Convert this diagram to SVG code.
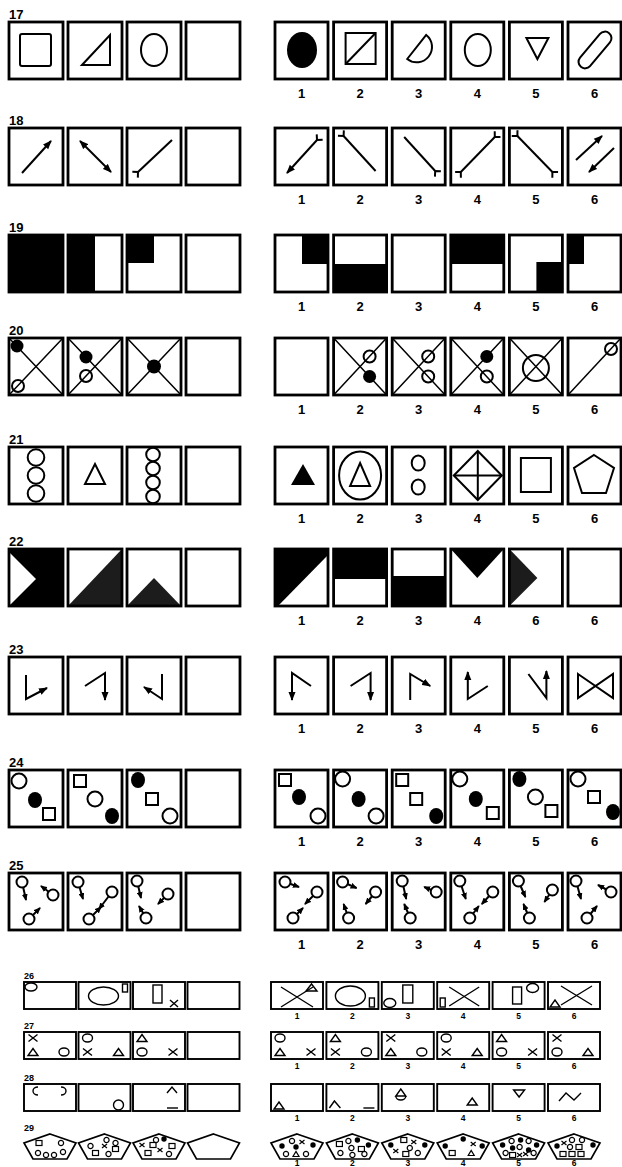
<svg xmlns="http://www.w3.org/2000/svg" width="622" height="1167" viewBox="0 0 622 1167">
<style>
.b{fill:#fff;stroke:#000;stroke-width:2.8}
.bo{fill:none;stroke:#000;stroke-width:2.8}
.sb{fill:#fff;stroke:#000;stroke-width:1.9}
.s{fill:none;stroke:#000;stroke-width:2}
.sw{fill:#fff;stroke:#000;stroke-width:2}
.t{fill:none;stroke:#000;stroke-width:1.5}
.f{fill:#000}
.g{fill:#1c1c1c}
.w{fill:#fff}
.m{fill:none;stroke:#000;stroke-width:1.4}
.lbl{font-family:"Liberation Sans",Arial,sans-serif;font-weight:bold;font-size:13px;fill:#000}
.num{font-family:"Liberation Sans",Arial,sans-serif;font-weight:bold;font-size:13px;text-anchor:middle;fill:#000}
.sl{font-family:"Liberation Sans",Arial,sans-serif;font-weight:bold;font-size:9px;fill:#000}
.sn{font-family:"Liberation Sans",Arial,sans-serif;font-weight:bold;font-size:8.5px;text-anchor:middle;fill:#000}
</style>
<defs>
<marker id="ah" viewBox="0 -4 9 8" refX="8" refY="0" markerWidth="9" markerHeight="8" markerUnits="userSpaceOnUse" orient="auto-start-reverse"><path d="M0,-3.5 L9,0 L0,3.5 Z" fill="#000"/></marker>
<marker id="ah2" viewBox="0 -3 7 6" refX="6" refY="0" markerWidth="7" markerHeight="6" markerUnits="userSpaceOnUse" orient="auto-start-reverse"><path d="M0,-3 L7,0 L0,3 Z" fill="#000"/></marker>
<marker id="yt" viewBox="-1 -6 7 12" refX="0" refY="0" markerWidth="7" markerHeight="12" markerUnits="userSpaceOnUse" orient="auto-start-reverse" overflow="visible"><path d="M4,-4 L0,0 L4,4" fill="none" stroke="#000" stroke-width="2"/></marker>
<circle id="c24" r="7.5" class="sw"/>
<ellipse id="b24" rx="7" ry="8" class="f"/>
<rect id="s24" x="-6" y="-6" width="12" height="12" class="sw"/>
<path id="x27" d="M-4.5,-3.5 L4.5,3.5 M-4.5,3.5 L4.5,-3.5" class="m"/>
<polygon id="t27" points="-5,3.5 5,3.5 0,-3.5" class="m"/>
<ellipse id="o27" rx="5" ry="4" class="m"/>
<circle id="pc" r="2.6" fill="none" stroke="#000" stroke-width="1.2"/>
<circle id="pf" r="2.7" fill="#000"/>
<rect id="ps" x="-3" y="-2.5" width="6" height="5" fill="none" stroke="#000" stroke-width="1.2"/>
<path id="px" d="M-2.5,-2 L2.5,2 M-2.5,2 L2.5,-2" fill="none" stroke="#000" stroke-width="1.2"/>
<polygon id="pt" points="-3,2.5 3,2.5 0,-2.5" fill="none" stroke="#000" stroke-width="1.2"/>
<polygon id="pent" points="26,0 52,9 43,25 9,25 0,9" fill="#fff" stroke="#000" stroke-width="1.7"/>
</defs>
<rect width="622" height="1167" fill="#fff"/>

<!-- ROW 17 -->
<g id="row17">
<text class="lbl" x="9" y="19">17</text>
<g id="r17-l1" transform="translate(9,22)"><rect class="b" width="54" height="57"/><rect class="s" x="11" y="12" width="31" height="32" rx="2"/></g>
<g id="r17-l2" transform="translate(68,22)"><rect class="b" width="54" height="57"/><polygon class="s" points="14,43 42,13 42,43"/></g>
<g id="r17-l3" transform="translate(127,22)"><rect class="b" width="54" height="57"/><ellipse class="s" cx="27" cy="28" rx="13" ry="16"/></g>
<g id="r17-l4" transform="translate(186,22)"><rect class="b" width="54" height="57"/></g>
<g id="r17-r1" transform="translate(275,22)"><rect class="b" width="53" height="57"/><ellipse class="f" cx="27" cy="28" rx="15" ry="18"/></g>
<g id="r17-r2" transform="translate(333.6,22)"><rect class="b" width="53" height="57"/><rect class="s" x="12" y="11" width="30" height="31"/><line class="s" x1="12" y1="42" x2="42" y2="11"/></g>
<g id="r17-r3" transform="translate(392.2,22)"><rect class="b" width="53" height="57"/><path class="s" d="M15,37 L34,13 A15.3,15.3 0 0 1 15,37 Z"/></g>
<g id="r17-r4" transform="translate(450.8,22)"><rect class="b" width="53" height="57"/><ellipse class="s" cx="27" cy="28" rx="13" ry="16"/></g>
<g id="r17-r5" transform="translate(509.4,22)"><rect class="b" width="53" height="57"/><polygon class="s" points="17,16 39,16 28,37"/></g>
<g id="r17-r6" transform="translate(568,22)"><rect class="b" width="53" height="57"/><rect class="s" x="5" y="21.5" width="44" height="13" rx="6.5" transform="rotate(-50 27 28)"/></g>
<text class="num" x="301.5" y="98">1</text><text class="num" x="360.1" y="98">2</text><text class="num" x="418.7" y="98">3</text><text class="num" x="477.3" y="98">4</text><text class="num" x="535.9" y="98">5</text><text class="num" x="594.5" y="98">6</text>
</g>

<!-- ROW 18 -->
<g id="row18">
<text class="lbl" x="9" y="125">18</text>
<g id="r18-l1" transform="translate(9,128)"><rect class="b" width="54" height="57"/><line class="s" x1="13" y1="45" x2="42" y2="13" marker-end="url(#ah)"/></g>
<g id="r18-l2" transform="translate(68,128)"><rect class="b" width="54" height="57"/><line class="s" x1="12" y1="13" x2="43" y2="44" marker-start="url(#ah)" marker-end="url(#ah)"/></g>
<g id="r18-l3" transform="translate(127,128)"><rect class="b" width="54" height="57"/><line class="s" x1="11" y1="44" x2="45" y2="12" marker-start="url(#yt)"/></g>
<g id="r18-l4" transform="translate(186,128)"><rect class="b" width="54" height="57"/></g>
<g id="r18-r1" transform="translate(275,128)"><rect class="b" width="53" height="57"/><line class="s" x1="12" y1="45" x2="42" y2="12" marker-start="url(#ah)" marker-end="url(#yt)"/></g>
<g id="r18-r2" transform="translate(333.6,128)"><rect class="b" width="53" height="57"/><line class="s" x1="10" y1="8" x2="42" y2="43" marker-start="url(#yt)"/></g>
<g id="r18-r3" transform="translate(392.2,128)"><rect class="b" width="53" height="57"/><line class="s" x1="12" y1="9" x2="43" y2="43" marker-end="url(#yt)"/></g>
<g id="r18-r4" transform="translate(450.8,128)"><rect class="b" width="53" height="57"/><line class="s" x1="10" y1="44" x2="44" y2="9" marker-start="url(#yt)" marker-end="url(#yt)"/></g>
<g id="r18-r5" transform="translate(509.4,128)"><rect class="b" width="53" height="57"/><line class="s" x1="8" y1="8" x2="43" y2="44" marker-start="url(#yt)" marker-end="url(#yt)"/></g>
<g id="r18-r6" transform="translate(568,128)"><rect class="b" width="53" height="57"/><line class="s" x1="8" y1="32" x2="34" y2="8" marker-end="url(#ah)"/><line class="s" x1="46" y1="20" x2="21" y2="44" marker-end="url(#ah)"/></g>
<text class="num" x="301.5" y="204">1</text><text class="num" x="360.1" y="204">2</text><text class="num" x="418.7" y="204">3</text><text class="num" x="477.3" y="204">4</text><text class="num" x="535.9" y="204">5</text><text class="num" x="594.5" y="204">6</text>
</g>

<!-- ROW 19 -->
<g id="row19">
<text class="lbl" x="9" y="232">19</text>
<g id="r19-l1" transform="translate(9,235)"><rect class="f" width="54" height="57"/><rect class="bo" width="54" height="57"/></g>
<g id="r19-l2" transform="translate(68,235)"><rect class="w" width="54" height="57"/><rect class="f" width="27" height="57"/><rect class="bo" width="54" height="57"/></g>
<g id="r19-l3" transform="translate(127,235)"><rect class="w" width="54" height="57"/><rect class="f" width="27" height="28"/><rect class="bo" width="54" height="57"/></g>
<g id="r19-l4" transform="translate(186,235)"><rect class="b" width="54" height="57"/></g>
<g id="r19-r1" transform="translate(275,235)"><rect class="w" width="53" height="57"/><rect class="f" x="27" width="26" height="29"/><rect class="bo" width="53" height="57"/></g>
<g id="r19-r2" transform="translate(333.6,235)"><rect class="w" width="53" height="57"/><rect class="f" y="29" width="53" height="28"/><rect class="bo" width="53" height="57"/></g>
<g id="r19-r3" transform="translate(392.2,235)"><rect class="b" width="53" height="57"/></g>
<g id="r19-r4" transform="translate(450.8,235)"><rect class="w" width="53" height="57"/><rect class="f" width="53" height="29"/><rect class="bo" width="53" height="57"/></g>
<g id="r19-r5" transform="translate(509.4,235)"><rect class="w" width="53" height="57"/><rect class="f" x="27" y="27" width="26" height="30"/><rect class="bo" width="53" height="57"/></g>
<g id="r19-r6" transform="translate(568,235)"><rect class="w" width="53" height="57"/><rect class="f" width="16" height="29"/><rect class="bo" width="53" height="57"/></g>
<text class="num" x="301.5" y="311">1</text><text class="num" x="360.1" y="311">2</text><text class="num" x="418.7" y="311">3</text><text class="num" x="477.3" y="311">4</text><text class="num" x="535.9" y="311">5</text><text class="num" x="594.5" y="311">6</text>
</g>

<!-- ROW 20 -->
<g id="row20">
<text class="lbl" x="9" y="335">20</text>
<g id="r20-l1" transform="translate(9,338)"><rect class="b" width="54" height="57"/><path class="t" d="M0,0 L54,57 M0,57 L54,0"/><circle class="f" cx="8" cy="8" r="6.5"/><circle class="s" cx="9" cy="48" r="6"/></g>
<g id="r20-l2" transform="translate(68,338)"><rect class="b" width="54" height="57"/><path class="t" d="M0,0 L54,57 M0,57 L54,0"/><circle class="f" cx="18" cy="19" r="6.5"/><circle class="s" cx="18" cy="38" r="6"/></g>
<g id="r20-l3" transform="translate(127,338)"><rect class="b" width="54" height="57"/><path class="t" d="M0,0 L54,57 M0,57 L54,0"/><circle class="f" cx="27" cy="28.5" r="7"/></g>
<g id="r20-l4" transform="translate(186,338)"><rect class="b" width="54" height="57"/></g>
<g id="r20-r1" transform="translate(275,338)"><rect class="b" width="53" height="57"/></g>
<g id="r20-r2" transform="translate(333.6,338)"><rect class="b" width="53" height="57"/><path class="t" d="M0,0 L53,57 M0,57 L53,0"/><circle class="s" cx="36" cy="18.5" r="6"/><circle class="f" cx="36" cy="38.5" r="6.5"/></g>
<g id="r20-r3" transform="translate(392.2,338)"><rect class="b" width="53" height="57"/><path class="t" d="M0,0 L53,57 M0,57 L53,0"/><circle class="s" cx="36" cy="18.5" r="6"/><circle class="s" cx="36" cy="38.5" r="6"/></g>
<g id="r20-r4" transform="translate(450.8,338)"><rect class="b" width="53" height="57"/><path class="t" d="M0,0 L53,57 M0,57 L53,0"/><circle class="f" cx="36" cy="18.5" r="6.5"/><circle class="s" cx="36" cy="38.5" r="6"/></g>
<g id="r20-r5" transform="translate(509.4,338)"><rect class="b" width="53" height="57"/><path class="t" d="M0,0 L53,57 M0,57 L53,0"/><circle class="s" cx="26.5" cy="30" r="13"/></g>
<g id="r20-r6" transform="translate(568,338)"><rect class="b" width="53" height="57"/><path class="t" d="M0,57 L53,0"/><circle class="s" cx="43" cy="11" r="6"/></g>
<text class="num" x="301.5" y="414">1</text><text class="num" x="360.1" y="414">2</text><text class="num" x="418.7" y="414">3</text><text class="num" x="477.3" y="414">4</text><text class="num" x="535.9" y="414">5</text><text class="num" x="594.5" y="414">6</text>
</g>

<!-- ROW 21 -->
<g id="row21">
<text class="lbl" x="9" y="444">21</text>
<g id="r21-l1" transform="translate(9,447)"><rect class="b" width="54" height="57"/><circle class="s" cx="27" cy="10.5" r="8.3"/><circle class="s" cx="27" cy="28.5" r="8.3"/><circle class="s" cx="27" cy="46.5" r="8.3"/></g>
<g id="r21-l2" transform="translate(68,447)"><rect class="b" width="54" height="57"/><polygon class="s" points="17,37 37,37 27,17"/></g>
<g id="r21-l3" transform="translate(127,447)"><rect class="b" width="54" height="57"/><circle class="s" cx="26" cy="7.5" r="6.8"/><circle class="s" cx="26" cy="21.5" r="6.8"/><circle class="s" cx="26" cy="35.5" r="6.8"/><circle class="s" cx="26" cy="49.5" r="6.8"/></g>
<g id="r21-l4" transform="translate(186,447)"><rect class="b" width="54" height="57"/></g>
<g id="r21-r1" transform="translate(275,447)"><rect class="b" width="53" height="57"/><polygon class="f" points="16,38 40,38 28,17"/></g>
<g id="r21-r2" transform="translate(333.6,447)"><rect class="b" width="53" height="57"/><ellipse class="s" cx="26.5" cy="28.5" rx="21" ry="24"/><polygon class="s" points="16.5,39 36.5,39 26.5,16"/></g>
<g id="r21-r3" transform="translate(392.2,447)"><rect class="b" width="53" height="57"/><ellipse class="s" cx="26" cy="16" rx="6.5" ry="7.5"/><ellipse class="s" cx="26" cy="40" rx="6.5" ry="7.5"/></g>
<g id="r21-r4" transform="translate(450.8,447)"><rect class="b" width="53" height="57"/><polygon class="s" points="27,4 51,28.5 27,53 3,28.5"/><path class="s" d="M27,4 L27,53 M3,28.5 L51,28.5"/></g>
<g id="r21-r5" transform="translate(509.4,447)"><rect class="b" width="53" height="57"/><rect class="s" x="11.5" y="11" width="30" height="34"/></g>
<g id="r21-r6" transform="translate(568,447)"><rect class="b" width="53" height="57"/><polygon class="s" points="26,8 46,21 38,46 14,46 6,21"/></g>
<text class="num" x="301.5" y="523">1</text><text class="num" x="360.1" y="523">2</text><text class="num" x="418.7" y="523">3</text><text class="num" x="477.3" y="523">4</text><text class="num" x="535.9" y="523">5</text><text class="num" x="594.5" y="523">6</text>
</g>

<!-- ROW 22 -->
<g id="row22">
<text class="lbl" x="9" y="546">22</text>
<g id="r22-l1" transform="translate(9,549)"><rect class="f" width="54" height="57"/><polygon class="w" points="0,3 27,30 0,57"/><rect class="bo" width="54" height="57"/></g>
<g id="r22-l2" transform="translate(68,549)"><rect class="w" width="54" height="57"/><polygon class="g" points="0,57 54,0 54,57"/><rect class="bo" width="54" height="57"/></g>
<g id="r22-l3" transform="translate(127,549)"><rect class="w" width="54" height="57"/><polygon class="g" points="0,57 54,57 27,29"/><rect class="bo" width="54" height="57"/></g>
<g id="r22-l4" transform="translate(186,549)"><rect class="b" width="54" height="57"/></g>
<g id="r22-r1" transform="translate(275,549)"><rect class="w" width="53" height="57"/><polygon class="f" points="0,0 53,0 53,6 3,57 0,57"/><rect class="bo" width="53" height="57"/></g>
<g id="r22-r2" transform="translate(333.6,549)"><rect class="w" width="53" height="57"/><rect class="f" width="53" height="30"/><rect class="bo" width="53" height="57"/></g>
<g id="r22-r3" transform="translate(392.2,549)"><rect class="w" width="53" height="57"/><rect class="f" y="27" width="53" height="30"/><rect class="bo" width="53" height="57"/></g>
<g id="r22-r4" transform="translate(450.8,549)"><rect class="w" width="53" height="57"/><polygon class="f" points="0,0 53,0 26.5,29"/><rect class="bo" width="53" height="57"/></g>
<g id="r22-r5" transform="translate(509.4,549)"><rect class="w" width="53" height="57"/><polygon class="g" points="0,0 28,29 0,57"/><rect class="bo" width="53" height="57"/></g>
<g id="r22-r6" transform="translate(568,549)"><rect class="b" width="53" height="57"/></g>
<text class="num" x="301.5" y="625">1</text><text class="num" x="360.1" y="625">2</text><text class="num" x="418.7" y="625">3</text><text class="num" x="477.3" y="625">4</text><text class="num" x="535.9" y="625">6</text><text class="num" x="594.5" y="625">6</text>
</g>

<!-- ROW 23 -->
<g id="row23">
<text class="lbl" x="9" y="654">23</text>
<g id="r23-l1" transform="translate(9,657)"><rect class="b" width="54" height="57"/><polyline class="s" points="17,18 17,42 38,31" marker-end="url(#ah)"/></g>
<g id="r23-l2" transform="translate(68,657)"><rect class="b" width="54" height="57"/><polyline class="s" points="17,29 37,16 37,43" marker-end="url(#ah)"/></g>
<g id="r23-l3" transform="translate(127,657)"><rect class="b" width="54" height="57"/><polyline class="s" points="35,17 35,42 17,30" marker-end="url(#ah)"/></g>
<g id="r23-l4" transform="translate(186,657)"><rect class="b" width="54" height="57"/></g>
<g id="r23-r1" transform="translate(275,657)"><rect class="b" width="53" height="57"/><polyline class="s" points="36,29 17,16 17,43" marker-end="url(#ah)"/></g>
<g id="r23-r2" transform="translate(333.6,657)"><rect class="b" width="53" height="57"/><polyline class="s" points="17,29 37,16 37,43" marker-end="url(#ah)"/></g>
<g id="r23-r3" transform="translate(392.2,657)"><rect class="b" width="53" height="57"/><polyline class="s" points="18,43 18,17 38,29" marker-end="url(#ah)"/></g>
<g id="r23-r4" transform="translate(450.8,657)"><rect class="b" width="53" height="57"/><polyline class="s" points="37,29 17,42 17,15" marker-end="url(#ah)"/></g>
<g id="r23-r5" transform="translate(509.4,657)"><rect class="b" width="53" height="57"/><polyline class="s" points="19,17 37,41 37,14" marker-end="url(#ah)"/></g>
<g id="r23-r6" transform="translate(568,657)"><rect class="b" width="53" height="57"/><polygon class="s" points="10,17 45,41 45,17 10,41"/></g>
<text class="num" x="301.5" y="733">1</text><text class="num" x="360.1" y="733">2</text><text class="num" x="418.7" y="733">3</text><text class="num" x="477.3" y="733">4</text><text class="num" x="535.9" y="733">5</text><text class="num" x="594.5" y="733">6</text>
</g>

<!-- ROW 24 -->
<g id="row24">
<text class="lbl" x="9" y="767">24</text>
<g id="r24-l1" transform="translate(9,770)"><rect class="b" width="54" height="57"/><use href="#c24" x="10" y="11"/><use href="#b24" x="26" y="30"/><use href="#s24" x="40" y="44"/></g>
<g id="r24-l2" transform="translate(68,770)"><rect class="b" width="54" height="57"/><use href="#s24" x="12" y="11"/><use href="#c24" x="27" y="29"/><use href="#b24" x="44" y="46"/></g>
<g id="r24-l3" transform="translate(127,770)"><rect class="b" width="54" height="57"/><use href="#b24" x="11" y="10"/><use href="#s24" x="25" y="29"/><use href="#c24" x="43" y="46"/></g>
<g id="r24-l4" transform="translate(186,770)"><rect class="b" width="54" height="57"/></g>
<g id="r24-r1" transform="translate(275,770)"><rect class="b" width="53" height="57"/><use href="#s24" x="10" y="10"/><use href="#b24" x="24" y="27"/><use href="#c24" x="43" y="46"/></g>
<g id="r24-r2" transform="translate(333.6,770)"><rect class="b" width="53" height="57"/><use href="#c24" x="9" y="9"/><use href="#b24" x="25" y="29"/><use href="#c24" x="42.5" y="46"/></g>
<g id="r24-r3" transform="translate(392.2,770)"><rect class="b" width="53" height="57"/><use href="#s24" x="10" y="10"/><use href="#s24" x="24" y="29"/><use href="#b24" x="44" y="46"/></g>
<g id="r24-r4" transform="translate(450.8,770)"><rect class="b" width="53" height="57"/><use href="#c24" x="9" y="9"/><use href="#b24" x="25" y="29"/><use href="#s24" x="42" y="43"/></g>
<g id="r24-r5" transform="translate(509.4,770)"><rect class="b" width="53" height="57"/><use href="#b24" x="10" y="9"/><use href="#c24" x="26" y="27"/><use href="#s24" x="42" y="41"/></g>
<g id="r24-r6" transform="translate(568,770)"><rect class="b" width="53" height="57"/><use href="#c24" x="10" y="9"/><use href="#s24" x="26" y="27"/><use href="#b24" x="45" y="42"/></g>
<text class="num" x="301.5" y="846">1</text><text class="num" x="360.1" y="846">2</text><text class="num" x="418.7" y="846">3</text><text class="num" x="477.3" y="846">4</text><text class="num" x="535.9" y="846">5</text><text class="num" x="594.5" y="846">6</text>
</g>

<!-- ROW 25 -->
<g id="row25">
<text class="lbl" x="9" y="870">25</text>
<g id="r25-l1" transform="translate(9,873)"><rect class="b" width="54" height="57"/>
<line class="s" x1="13" y1="9" x2="17" y2="27" marker-end="url(#ah2)"/><circle class="sw" cx="13" cy="9" r="5.5"/>
<line class="s" x1="44" y1="22" x2="32" y2="13" marker-end="url(#ah2)"/><circle class="sw" cx="44" cy="22" r="5.5"/>
<line class="s" x1="20" y1="46" x2="31" y2="35" marker-end="url(#ah2)"/><circle class="sw" cx="20" cy="46" r="5.5"/></g>
<g id="r25-l2" transform="translate(68,873)"><rect class="b" width="54" height="57"/>
<line class="s" x1="10" y1="9" x2="15" y2="26" marker-end="url(#ah2)"/><circle class="sw" cx="10" cy="9" r="5.5"/>
<line class="s" x1="44" y1="19" x2="31" y2="36" marker-end="url(#ah2)"/><circle class="sw" cx="44" cy="19" r="5.5"/>
<line class="s" x1="21" y1="46" x2="33" y2="34" marker-end="url(#ah2)"/><circle class="sw" cx="21" cy="46" r="5.5"/></g>
<g id="r25-l3" transform="translate(127,873)"><rect class="b" width="54" height="57"/>
<line class="s" x1="10" y1="8" x2="14" y2="25" marker-end="url(#ah2)"/><circle class="sw" cx="10" cy="8" r="5.5"/>
<line class="s" x1="41" y1="21" x2="31" y2="31" marker-end="url(#ah2)"/><circle class="sw" cx="41" cy="21" r="5.5"/>
<line class="s" x1="19" y1="45" x2="12" y2="33" marker-end="url(#ah2)"/><circle class="sw" cx="19" cy="45" r="5.5"/></g>
<g id="r25-l4" transform="translate(186,873)"><rect class="b" width="54" height="57"/></g>
<g id="r25-r1" transform="translate(275,873)"><rect class="b" width="53" height="57"/>
<line class="s" x1="10" y1="9" x2="24" y2="14" marker-end="url(#ah2)"/><circle class="sw" cx="10" cy="9" r="5.5"/>
<line class="s" x1="42" y1="19" x2="30" y2="31" marker-end="url(#ah2)"/><circle class="sw" cx="42" cy="19" r="5.5"/>
<line class="s" x1="18" y1="45" x2="28" y2="35" marker-end="url(#ah2)"/><circle class="sw" cx="18" cy="45" r="5.5"/></g>
<g id="r25-r2" transform="translate(333.6,873)"><rect class="b" width="53" height="57"/>
<line class="s" x1="9" y1="9" x2="23" y2="15" marker-end="url(#ah2)"/><circle class="sw" cx="9" cy="9" r="5.5"/>
<line class="s" x1="42" y1="19" x2="32" y2="31" marker-end="url(#ah2)"/><circle class="sw" cx="42" cy="19" r="5.5"/>
<line class="s" x1="15" y1="45" x2="10" y2="31" marker-end="url(#ah2)"/><circle class="sw" cx="15" cy="45" r="5.5"/></g>
<g id="r25-r3" transform="translate(392.2,873)"><rect class="b" width="53" height="57"/>
<line class="s" x1="10" y1="8" x2="14" y2="26" marker-end="url(#ah2)"/><circle class="sw" cx="10" cy="8" r="5.5"/>
<line class="s" x1="44" y1="19" x2="32" y2="14" marker-end="url(#ah2)"/><circle class="sw" cx="44" cy="19" r="5.5"/>
<line class="s" x1="18" y1="45" x2="12" y2="31" marker-end="url(#ah2)"/><circle class="sw" cx="18" cy="45" r="5.5"/></g>
<g id="r25-r4" transform="translate(450.8,873)"><rect class="b" width="53" height="57"/>
<line class="s" x1="9" y1="8" x2="15" y2="26" marker-end="url(#ah2)"/><circle class="sw" cx="9" cy="8" r="5.5"/>
<line class="s" x1="42" y1="19" x2="31" y2="31" marker-end="url(#ah2)"/><circle class="sw" cx="42" cy="19" r="5.5"/>
<line class="s" x1="19" y1="45" x2="28" y2="33" marker-end="url(#ah2)"/><circle class="sw" cx="19" cy="45" r="5.5"/></g>
<g id="r25-r5" transform="translate(509.4,873)"><rect class="b" width="53" height="57"/>
<line class="s" x1="9" y1="8" x2="16" y2="24" marker-end="url(#ah2)"/><circle class="sw" cx="9" cy="8" r="5.5"/>
<line class="s" x1="43" y1="17" x2="35" y2="29" marker-end="url(#ah2)"/><circle class="sw" cx="43" cy="17" r="5.5"/>
<line class="s" x1="20" y1="45" x2="14" y2="31" marker-end="url(#ah2)"/><circle class="sw" cx="20" cy="45" r="5.5"/></g>
<g id="r25-r6" transform="translate(568,873)"><rect class="b" width="53" height="57"/>
<line class="s" x1="8" y1="8" x2="13" y2="26" marker-end="url(#ah2)"/><circle class="sw" cx="8" cy="8" r="5.5"/>
<line class="s" x1="43" y1="19" x2="30" y2="12" marker-end="url(#ah2)"/><circle class="sw" cx="43" cy="19" r="5.5"/>
<line class="s" x1="19" y1="45" x2="29" y2="33" marker-end="url(#ah2)"/><circle class="sw" cx="19" cy="45" r="5.5"/></g>
<text class="num" x="301.5" y="949">1</text><text class="num" x="360.1" y="949">2</text><text class="num" x="418.7" y="949">3</text><text class="num" x="477.3" y="949">4</text><text class="num" x="535.9" y="949">5</text><text class="num" x="594.5" y="949">6</text>
</g>

<!-- ROW 26 -->
<g id="row26">
<text class="sl" x="24" y="979">26</text>
<g id="r26-l1" transform="translate(24,982)"><rect class="sb" width="52" height="27"/><ellipse class="m" cx="7" cy="5" rx="6" ry="4"/></g>
<g id="r26-l2" transform="translate(78.5,982)"><rect class="sb" width="52" height="27"/><ellipse class="m" cx="25" cy="14" rx="15" ry="9"/><rect class="m" x="44" y="2" width="5" height="8"/></g>
<g id="r26-l3" transform="translate(133,982)"><rect class="sb" width="52" height="27"/><rect class="m" x="20" y="3" width="9" height="18"/><path class="m" d="M37,18 L45,25 M37,25 L45,18"/></g>
<g id="r26-l4" transform="translate(187.5,982)"><rect class="sb" width="52" height="27"/></g>
<g id="r26-r1" transform="translate(271,982)"><rect class="sb" width="52" height="27"/><path class="m" d="M10,5 L42,25 M10,25 L42,5"/><polygon class="m" points="35,9 46,9 40.5,2"/></g>
<g id="r26-r2" transform="translate(326.4,982)"><rect class="sb" width="52" height="27"/><ellipse class="m" cx="24" cy="14" rx="15" ry="10"/><rect class="m" x="43" y="16" width="5" height="9"/></g>
<g id="r26-r3" transform="translate(381.8,982)"><rect class="sb" width="52" height="27"/><ellipse class="m" cx="8" cy="21" rx="6" ry="4.5"/><rect class="m" x="21" y="3" width="10" height="18"/></g>
<g id="r26-r4" transform="translate(437.2,982)"><rect class="sb" width="52" height="27"/><rect class="m" x="3" y="16" width="5" height="9"/><path class="m" d="M12,5 L42,24 M12,24 L42,5"/></g>
<g id="r26-r5" transform="translate(492.6,982)"><rect class="sb" width="52" height="27"/><rect class="m" x="20" y="5" width="9" height="17"/><ellipse class="m" cx="40" cy="6" rx="6" ry="4.5"/></g>
<g id="r26-r6" transform="translate(548,982)"><rect class="sb" width="52" height="27"/><path class="m" d="M13,4 L44,23 M13,23 L44,4"/><polygon class="m" points="2,25 12,25 7,18"/></g>
<text class="sn" x="297" y="1019">1</text><text class="sn" x="352.4" y="1019">2</text><text class="sn" x="407.8" y="1019">3</text><text class="sn" x="463.2" y="1019">4</text><text class="sn" x="518.6" y="1019">5</text><text class="sn" x="574" y="1019">6</text>
</g>

<!-- ROW 27 -->
<g id="row27">
<text class="sl" x="24" y="1029">27</text>
<g id="r27-l1" transform="translate(24,1032)"><rect class="sb" width="52" height="27"/><use href="#x27" x="9" y="6"/><use href="#t27" x="9" y="20"/><use href="#o27" x="40" y="20"/></g>
<g id="r27-l2" transform="translate(78.5,1032)"><rect class="sb" width="52" height="27"/><use href="#o27" x="9" y="6"/><use href="#x27" x="9" y="20"/><use href="#t27" x="40" y="20"/></g>
<g id="r27-l3" transform="translate(133,1032)"><rect class="sb" width="52" height="27"/><use href="#t27" x="9" y="6"/><use href="#o27" x="9" y="20"/><use href="#x27" x="40" y="20"/></g>
<g id="r27-l4" transform="translate(187.5,1032)"><rect class="sb" width="52" height="27"/></g>
<g id="r27-r1" transform="translate(271,1032)"><rect class="sb" width="52" height="27"/><use href="#o27" x="9" y="6"/><use href="#t27" x="9" y="20"/><use href="#x27" x="40" y="20"/></g>
<g id="r27-r2" transform="translate(326.4,1032)"><rect class="sb" width="52" height="27"/><use href="#t27" x="9" y="6"/><use href="#x27" x="9" y="20"/><use href="#o27" x="40" y="20"/></g>
<g id="r27-r3" transform="translate(381.8,1032)"><rect class="sb" width="52" height="27"/><use href="#x27" x="9" y="6"/><use href="#t27" x="9" y="20"/><use href="#o27" x="40" y="20"/></g>
<g id="r27-r4" transform="translate(437.2,1032)"><rect class="sb" width="52" height="27"/><use href="#o27" x="9" y="6"/><use href="#x27" x="9" y="20"/><use href="#t27" x="40" y="20"/></g>
<g id="r27-r5" transform="translate(492.6,1032)"><rect class="sb" width="52" height="27"/><use href="#t27" x="9" y="6"/><use href="#o27" x="9" y="20"/><use href="#x27" x="40" y="20"/></g>
<g id="r27-r6" transform="translate(548,1032)"><rect class="sb" width="52" height="27"/><use href="#x27" x="9" y="6"/><use href="#o27" x="9" y="20"/><use href="#t27" x="40" y="20"/></g>
<text class="sn" x="297" y="1069">1</text><text class="sn" x="352.4" y="1069">2</text><text class="sn" x="407.8" y="1069">3</text><text class="sn" x="463.2" y="1069">4</text><text class="sn" x="518.6" y="1069">5</text><text class="sn" x="574" y="1069">6</text>
</g>

<!-- ROW 28 -->
<g id="row28">
<text class="sl" x="24" y="1081">28</text>
<g id="r28-l1" transform="translate(24,1084)"><rect class="sb" width="52" height="27"/><path class="m" d="M14,3 A5,4 0 0 0 14,11"/><path class="m" d="M37,3 A5,4 0 0 1 37,11"/></g>
<g id="r28-l2" transform="translate(78.5,1084)"><rect class="sb" width="52" height="27"/><circle class="m" cx="40" cy="21" r="5"/></g>
<g id="r28-l3" transform="translate(133,1084)"><rect class="sb" width="52" height="27"/><polyline class="m" points="34,9 39,3 44,9"/><line class="m" x1="34" y1="24" x2="45" y2="24"/></g>
<g id="r28-l4" transform="translate(187.5,1084)"><rect class="sb" width="52" height="27"/></g>
<g id="r28-r1" transform="translate(271,1084)"><rect class="sb" width="52" height="27"/><polygon class="m" points="3,25 13,25 8,18"/></g>
<g id="r28-r2" transform="translate(326.4,1084)"><rect class="sb" width="52" height="27"/><polyline class="m" points="3,24 8,17 14,24"/><line class="m" x1="37" y1="24" x2="48" y2="24"/></g>
<g id="r28-r3" transform="translate(381.8,1084)"><rect class="sb" width="52" height="27"/><polygon class="m" points="14,12 24,12 19,5"/><path class="m" d="M14,12 A5,4 0 0 0 24,12"/></g>
<g id="r28-r4" transform="translate(437.2,1084)"><rect class="sb" width="52" height="27"/><polygon class="m" points="30,21 40,21 35,14"/></g>
<g id="r28-r5" transform="translate(492.6,1084)"><rect class="sb" width="52" height="27"/><polygon class="m" points="21,6 32,6 26.5,13"/></g>
<g id="r28-r6" transform="translate(548,1084)"><rect class="sb" width="52" height="27"/><polyline class="m" points="11,17 18,9 26,16 33,9"/></g>
<text class="sn" x="297" y="1121">1</text><text class="sn" x="352.4" y="1121">2</text><text class="sn" x="407.8" y="1121">3</text><text class="sn" x="463.2" y="1121">4</text><text class="sn" x="518.6" y="1121">5</text><text class="sn" x="574" y="1121">6</text>
</g>

<!-- ROW 29 -->
<g id="row29">
<text class="sl" x="24" y="1131">29</text>
<g id="r29-l1" transform="translate(24,1134)"><use href="#pent"/><use href="#ps" x="15" y="9"/><use href="#pc" x="37" y="9"/><use href="#pc" x="14" y="19"/><use href="#pc" x="22" y="21"/><use href="#pc" x="30" y="21"/><use href="#pc" x="39" y="18"/></g>
<g id="r29-l2" transform="translate(78.5,1134)"><use href="#pent"/><use href="#pc" x="28" y="6"/><use href="#pc" x="37" y="9"/><use href="#pc" x="12" y="12"/><use href="#px" x="26" y="12"/><use href="#ps" x="37" y="15"/><use href="#ps" x="17" y="19"/><use href="#pc" x="30" y="20"/></g>
<g id="r29-l3" transform="translate(133,1134)"><use href="#pent"/><use href="#pc" x="23" y="6"/><use href="#pf" x="31" y="5"/><use href="#px" x="9" y="11"/><use href="#ps" x="20" y="11"/><use href="#ps" x="39" y="12"/><use href="#ps" x="15" y="19"/><use href="#pc" x="36" y="20"/><use href="#px" x="27" y="16"/></g>
<g id="r29-l4" transform="translate(187.5,1134)"><use href="#pent"/></g>
<g id="r29-r1" transform="translate(271,1134)"><use href="#pent"/><use href="#pf" x="11" y="12"/><use href="#pc" x="21" y="7"/><use href="#px" x="31" y="8"/><use href="#pf" x="42" y="11"/><use href="#pf" x="25" y="13"/><use href="#pc" x="15" y="20"/><use href="#pt" x="25" y="20"/><use href="#pc" x="35" y="20"/></g>
<g id="r29-r2" transform="translate(326.4,1134)"><use href="#pent"/><use href="#ps" x="13" y="10"/><use href="#pc" x="22" y="7"/><use href="#pf" x="31" y="6"/><use href="#pf" x="42" y="11"/><use href="#pc" x="25" y="14"/><use href="#ps" x="35" y="15"/><use href="#pc" x="14" y="19"/><use href="#pc" x="26" y="21"/><use href="#pc" x="38" y="20"/></g>
<g id="r29-r3" transform="translate(381.8,1134)"><use href="#pent"/><use href="#pf" x="9" y="11"/><use href="#ps" x="22" y="6"/><use href="#px" x="32" y="8"/><use href="#pf" x="43" y="11"/><use href="#px" x="14" y="17"/><use href="#pc" x="28" y="14"/><use href="#ps" x="24" y="20"/><use href="#pc" x="36" y="19"/></g>
<g id="r29-r4" transform="translate(437.2,1134)"><use href="#pent"/><use href="#pf" x="8" y="12"/><use href="#pf" x="26" y="5"/><use href="#px" x="36" y="10"/><use href="#pf" x="45" y="12"/><use href="#ps" x="15" y="19"/><use href="#pt" x="34" y="19"/></g>
<g id="r29-r5" transform="translate(492.6,1134)"><use href="#pent"/><use href="#pf" x="10" y="11"/><use href="#pf" x="28" y="6"/><use href="#pf" x="44" y="11"/><use href="#pf" x="20" y="14"/><use href="#pf" x="36" y="16"/><use href="#pc" x="19" y="7"/><use href="#pc" x="36" y="7"/><use href="#pc" x="27" y="13"/><use href="#pc" x="13" y="19"/><use href="#pc" x="41" y="19"/><use href="#px" x="27" y="21"/><use href="#px" x="33" y="20"/><use href="#ps" x="20" y="21"/></g>
<g id="r29-r6" transform="translate(548,1134)"><use href="#pent"/><use href="#px" x="16" y="9"/><use href="#pc" x="24" y="6"/><use href="#pc" x="34" y="6"/><use href="#pf" x="45" y="11"/><use href="#pf" x="9" y="12"/><use href="#pc" x="22" y="13"/><use href="#ps" x="31" y="13"/><use href="#ps" x="15" y="20"/><use href="#ps" x="24" y="20"/><use href="#ps" x="33" y="20"/></g>
<text class="sn" x="297" y="1166">1</text><text class="sn" x="352.4" y="1166">2</text><text class="sn" x="407.8" y="1166">3</text><text class="sn" x="463.2" y="1166">4</text><text class="sn" x="518.6" y="1166">5</text><text class="sn" x="574" y="1166">6</text>
</g>
</svg>
